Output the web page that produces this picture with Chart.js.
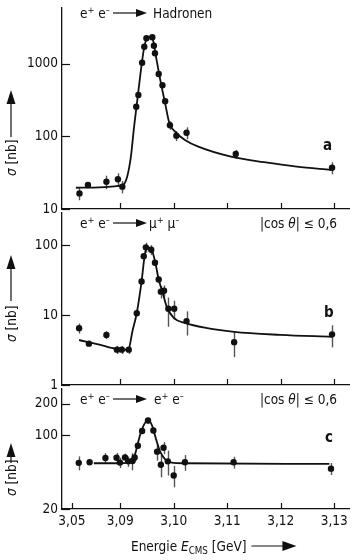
<!DOCTYPE html>
<html>
<head>
<meta charset="utf-8">
<script src="https://cdn.jsdelivr.net/npm/chart.js@4.4.1/dist/chart.umd.min.js"></script>
<style>
  html, body { margin: 0; padding: 0; background: #fff; }
  #wrap { position: relative; width: 353px; height: 560px; overflow: hidden; }
  canvas { position: absolute; left: 0; }
</style>
</head>
<body>
<div id="wrap">
  <canvas id="chA" width="353" height="220" style="top:0px"></canvas>
  <canvas id="chB" width="353" height="188" style="top:209px"></canvas>
  <canvas id="chC" width="353" height="175" style="top:385px"></canvas>
</div>
<script>
// x axis is broken below 3.09 GeV (3.05..3.09 squeezed into ~one 0.01 step)
const BREAK = 3.09
const SQUEEZE = 49 / 54.25 / 4
const xTickE = [3.05, 3.09, 3.10, 3.11, 3.12, 3.13]
const xTickLabels = ['3,05', '3,09', '3,10', '3,11', '3,12', '3,13']

// a) e+ e- -> Hadronen
const hadE = [3.0563, 3.0633, 3.0786, 3.0881, 3.0904, 3.0930, 3.0934, 3.0941, 3.0945, 3.0949, 3.0960, 3.0963, 3.0965, 3.0972, 3.0979, 3.0984, 3.0993, 3.1005, 3.1024, 3.1116, 3.1296]
const hadSigma = [16.4, 21.4, 23.7, 25.6, 20.3, 255, 370, 1029, 1708, 2230, 2300, 1763, 1386, 719, 503, 303, 142, 102, 112, 57, 37]
const hadErr = [3.2, 1.5, 5, 5.4, 3.9, 20, 28, 80, 130, 170, 175, 135, 105, 55, 38, 23, 19, 16, 21, 8, 7]
const hadFitE = [3.0533, 3.0904, 3.0913, 3.0920, 3.0926, 3.0932, 3.0938, 3.0944, 3.0950, 3.0957, 3.0961, 3.0967, 3.0975, 3.0984, 3.0992, 3.1003, 3.1021, 3.1046, 3.1107, 3.1169, 3.1230, 3.1294]
const hadFit = [19.6, 21.2, 27.8, 52.5, 136, 315, 735, 1535, 2230, 2350, 2160, 1240, 592, 284, 151, 115, 89, 72, 52.5, 44, 38.2, 34.4]
const hadTicks = [10, 100, 1000]

// b) e+ e- -> mu+ mu-
const muE = [3.0560, 3.0641, 3.0786, 3.0873, 3.0903, 3.0916, 3.0931, 3.0940, 3.0944, 3.0948, 3.0958, 3.0965, 3.0972, 3.0976, 3.0982, 3.0990, 3.1001, 3.1024, 3.1113, 3.1296]
const muSigma = [6.5, 3.9, 5.2, 3.2, 3.2, 3.2, 10.6, 30.2, 69.6, 92.9, 86, 56.1, 32.2, 21.6, 22.3, 12.3, 12.3, 8.2, 4.1, 5.3]
const muErr = [1.06, 0.3, 0.67, 0.42, 0.42, 0.42, 0.7, 2, 6.7, 15, 14, 5.4, 3.1, 4.3, 4.3, 5.5, 3.7, 3.1, 1.6, 1.85]
const muFitE = [3.0560, 3.0729, 3.0865, 3.0915, 3.0923, 3.0931, 3.0940, 3.0946, 3.0950, 3.0957, 3.0965, 3.0972, 3.0979, 3.0987, 3.1000, 3.1021, 3.1058, 3.1113, 3.1199, 3.1296]
const muFit = [4.40, 3.78, 3.29, 3.19, 5.93, 10.7, 30.2, 73.3, 92.9, 90.8, 59.3, 32.2, 21.4, 13.2, 9.08, 7.73, 6.59, 5.74, 5.21, 4.89]
const muTicks = [1, 10, 100]

// c) e+ e- -> e+ e-
const eeE = [3.0557, 3.0647, 3.0778, 3.0870, 3.0898, 3.0909, 3.0915, 3.0923, 3.0927, 3.0933, 3.0941, 3.0952, 3.0962, 3.0969, 3.0981, 3.0976, 3.0989, 3.1000, 3.1021, 3.1112, 3.1294]
const eeSigma = [54.8, 55.5, 60.9, 61.3, 55.1, 61.7, 56.6, 57.1, 61.7, 79.5, 110, 138, 111, 70, 76.2, 52.5, 56.6, 41.6, 55.5, 55.5, 48.3]
const eeErr = [8.3, 2, 6.8, 6.8, 6.2, 5.3, 6.3, 10.5, 5.3, 5.2, 7.3, 9, 7.3, 12.5, 10, 12.5, 15, 9.5, 9.4, 7.2, 6.3]
const eeFitE = [3.0682, 3.0900, 3.0923, 3.0929, 3.0935, 3.0942, 3.0952, 3.0960, 3.0967, 3.0975, 3.0984, 3.0996, 3.1021, 3.1291]
const eeFit = [54.3, 54.3, 57.5, 69.5, 92, 118, 140.6, 122, 92, 69.5, 59.1, 55.1, 54.3, 53.6]
const eeTicks = [20, 100, 200]

const FONT = '"DejaVu Sans Condensed", "Liberation Sans Narrow", sans-serif'
const FS = 13.5
const INK = '#111'

function ax(e) { return e >= BREAK ? (e - BREAK) * 100 : (e - BREAK) * 100 * SQUEEZE }

function rich(ctx, x, y, parts, size, align) {
  const spec = k => {
    if (k === 'sup') return { f: `${size * 0.68}px ${FONT}`, dy: -size * 0.36 }
    if (k === 'sub') return { f: `${size * 0.72}px ${FONT}`, dy: size * 0.22 }
    if (k === 'i') return { f: `italic ${size}px ${FONT}`, dy: 0 }
    if (k === 'b') return { f: `bold ${size}px ${FONT}`, dy: 0 }
    return { f: `${size}px ${FONT}`, dy: 0 }
  }
  let w = 0
  const items = parts.map(([t, k]) => {
    const s = spec(k)
    ctx.font = s.f
    const tw = ctx.measureText(t).width
    w += tw
    return { t, f: s.f, dy: s.dy, tw }
  })
  let cx = align === 'right' ? x - w : x
  ctx.textAlign = 'left'
  ctx.textBaseline = 'alphabetic'
  items.forEach(it => { ctx.font = it.f; ctx.fillText(it.t, cx, y + it.dy); cx += it.tw })
  return cx
}

function arrowH(ctx, x1, x2, y, head) {
  ctx.beginPath(); ctx.moveTo(x1, y); ctx.lineTo(x2 - head + 1, y); ctx.stroke()
  ctx.beginPath(); ctx.moveTo(x2, y); ctx.lineTo(x2 - head, y - head * 0.36); ctx.lineTo(x2 - head, y + head * 0.36); ctx.closePath(); ctx.fill()
}

function arrowUp(ctx, x, y1, y2, head) {
  ctx.beginPath(); ctx.moveTo(x, y1); ctx.lineTo(x, y2 + head - 1); ctx.stroke()
  ctx.beginPath(); ctx.moveTo(x, y2); ctx.lineTo(x - head * 0.32, y2 + head); ctx.lineTo(x + head * 0.32, y2 + head); ctx.closePath(); ctx.fill()
}

function yTitle(ctx, x, textBottom, shaftFrom, tip) {
  ctx.save()
  ctx.translate(x, textBottom)
  ctx.rotate(-Math.PI / 2)
  rich(ctx, 0, 5, [['σ', 'i'], [' [nb]', 'n']], FS)
  ctx.restore()
  ctx.lineWidth = 1.2
  arrowUp(ctx, x, shaftFrom, tip, 14)
}

const ePlus = [['e', 'n'], ['+', 'sup'], [' e', 'n'], ['–', 'sup']]
const cosCut = [['|cos ', 'n'], ['θ', 'i'], ['| ≤ 0,6', 'n']]

const errorBars = {
  id: 'errorBars',
  beforeDatasetsDraw(chart, args, opts) {
    const { ctx, scales: { x, y } } = chart
    ctx.save()
    ctx.strokeStyle = '#555'
    ctx.lineWidth = 1.4
    chart.data.datasets[0].data.forEach((p, i) => {
      const px = Math.round(x.getPixelForValue(p.x)) + 0.5
      ctx.beginPath()
      ctx.moveTo(px, y.getPixelForValue(p.y + opts.err[i]))
      ctx.lineTo(px, y.getPixelForValue(Math.max(p.y - opts.err[i], y.min)))
      ctx.stroke()
    })
    ctx.restore()
  }
}

// inward tick marks plus the free text of each panel
const decor = {
  id: 'decor',
  afterDraw(chart, args, opts) {
    const { ctx, chartArea: a, scales: { x, y } } = chart
    ctx.save()
    ctx.strokeStyle = INK
    ctx.fillStyle = INK
    ctx.lineWidth = 1.2
    x.ticks.forEach(t => {
      const px = Math.round(x.getPixelForValue(t.value)) + 0.5
      ctx.beginPath(); ctx.moveTo(px, a.bottom); ctx.lineTo(px, a.bottom - 6); ctx.stroke()
    })
    y.ticks.forEach(t => {
      const py = Math.round(y.getPixelForValue(t.value)) + 0.5
      ctx.beginPath(); ctx.moveTo(a.left, py); ctx.lineTo(a.left + 8, py); ctx.stroke()
    })
    ctx.translate(0, -opts.top)
    opts.draw(ctx)
    ctx.restore()
  }
}

function panel(id, top, cfg) {
  const tickE = cfg.labels ? xTickE : xTickE.slice(1)
  return new Chart(document.getElementById(id), {
    type: 'scatter',
    data: {
      datasets: [
        {
          data: cfg.E.map((e, i) => ({ x: ax(e), y: cfg.sigma[i] })),
          backgroundColor: INK, borderColor: INK, pointRadius: 3.2, pointBorderWidth: 0
        },
        {
          type: 'line',
          data: cfg.fitE.map((e, i) => ({ x: ax(e), y: cfg.fit[i] })),
          borderColor: INK, borderWidth: 1.8, pointRadius: 0, cubicInterpolationMode: 'monotone', fill: false
        }
      ]
    },
    options: {
      responsive: false,
      animation: false,
      layout: { padding: { top: cfg.padTop, left: 0, right: 0, bottom: 0 } },
      plugins: {
        legend: { display: false },
        tooltip: { enabled: false },
        errorBars: { err: cfg.err },
        decor: { top, draw: cfg.draw }
      },
      scales: {
        x: {
          type: 'linear',
          min: -(121 - 62) / 54.25,
          max: (353 - 121) / 54.25,
          afterBuildTicks: s => { s.ticks = tickE.map(e => ({ value: ax(e) })) },
          afterFit: s => { s.height = cfg.xHeight; s.paddingLeft = 0; s.paddingRight = 0 },
          grid: { display: false, drawTicks: false },
          border: { display: true, color: INK, width: 1.3 },
          ticks: {
            display: cfg.labels,
            padding: 4,
            color: INK,
            font: { family: FONT, size: FS },
            maxRotation: 0,
            callback: v => xTickLabels[xTickE.findIndex(e => Math.abs(ax(e) - v) < 1e-6)]
          }
        },
        y: {
          type: 'logarithmic',
          min: cfg.min,
          max: cfg.max,
          afterBuildTicks: s => { s.ticks = cfg.ticks.map(v => ({ value: v })) },
          afterFit: s => { s.width = 62; s.paddingTop = 0; s.paddingBottom = 0 },
          grid: { display: false, drawTicks: false },
          border: { display: true, color: INK, width: 1.3 },
          ticks: { padding: 4, color: INK, font: { family: FONT, size: FS }, callback: v => String(v) }
        }
      }
    },
    plugins: [errorBars, decor]
  })
}

panel('chA', 0, {
  E: hadE, sigma: hadSigma, err: hadErr, fitE: hadFitE, fit: hadFit,
  min: 10, max: 5820, ticks: hadTicks, padTop: 8, xHeight: 11, labels: false,
  draw: ctx => {
    rich(ctx, 80, 18, ePlus, FS)
    ctx.lineWidth = 1.2
    arrowH(ctx, 113, 147, 13, 11)
    rich(ctx, 153, 18, [['Hadronen', 'n']], FS)
    rich(ctx, 323, 150, [['a', 'b']], 15)
    yTitle(ctx, 11, 176, 137, 90)
  }
})

panel('chB', 209, {
  E: muE, sigma: muSigma, err: muErr, fitE: muFitE, fit: muFit,
  min: 1, max: 288, ticks: muTicks, padTop: 0, xHeight: 12, labels: false,
  draw: ctx => {
    rich(ctx, 80, 228, ePlus, FS)
    ctx.lineWidth = 1.2
    arrowH(ctx, 113, 147, 223, 11)
    rich(ctx, 149, 228, [['μ', 'n'], ['+', 'sup'], [' μ', 'n'], ['–', 'sup']], FS)
    rich(ctx, 337, 228, cosCut, FS, 'right')
    rich(ctx, 324, 317, [['b', 'b']], 15)
    yTitle(ctx, 11, 342, 301, 255)
  }
})

panel('chC', 385, {
  E: eeE, sigma: eeSigma, err: eeErr, fitE: eeFitE, fit: eeFit,
  min: 20, max: 275, ticks: eeTicks, padTop: 0, xHeight: 51, labels: true,
  draw: ctx => {
    rich(ctx, 80, 404, ePlus, FS)
    ctx.lineWidth = 1.2
    arrowH(ctx, 113, 147, 399, 11)
    rich(ctx, 154, 404, ePlus, FS)
    rich(ctx, 337, 404, cosCut, FS, 'right')
    rich(ctx, 325, 442, [['c', 'b']], 15)
    yTitle(ctx, 11, 496, 463, 443)
    const end = rich(ctx, 131, 551, [['Energie ', 'n'], ['E', 'i'], ['CMS', 'sub'], [' [GeV]', 'n']], FS)
    ctx.lineWidth = 1.2
    arrowH(ctx, end + 5, end + 50, 546, 14)
  }
})
</script>
</body>
</html>
